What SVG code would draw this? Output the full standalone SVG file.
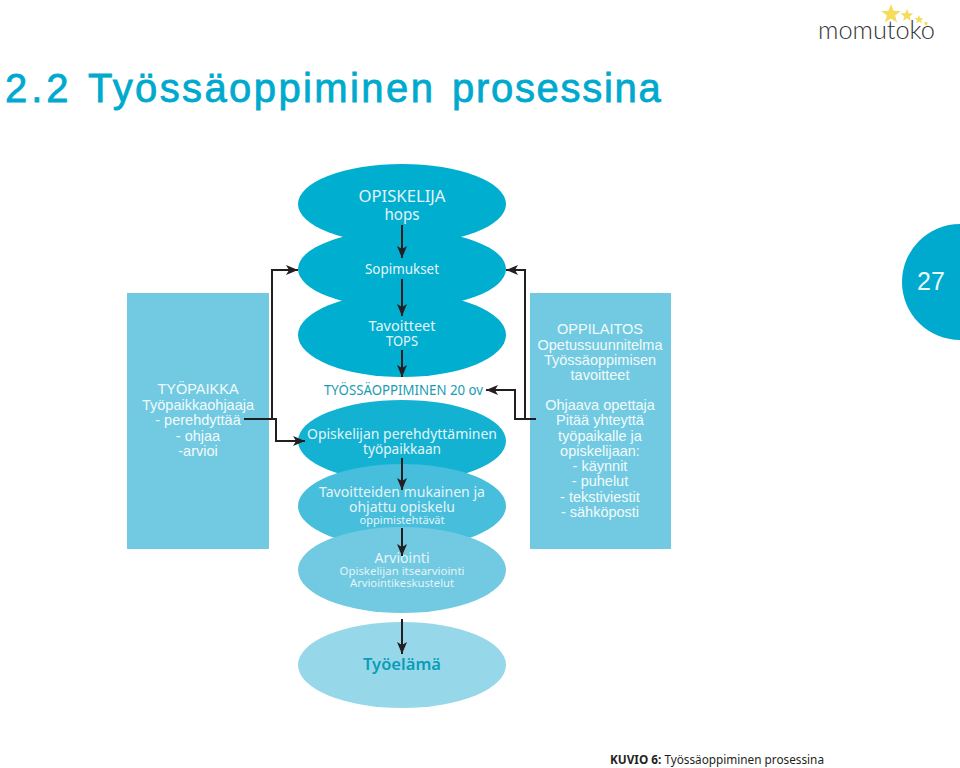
<svg xmlns="http://www.w3.org/2000/svg" width="960" height="768" viewBox="0 0 960 768">
<style>
text{font-family:"Noto Sans","DejaVu Sans",sans-serif;text-anchor:middle}
.a{font-family:"Liberation Sans",Arial,sans-serif}
.w{fill:#e4f4f8;font-size:14.500px}
.s{fill:#e4f4f8;font-size:11.500px}
.box{fill:#71cae1}
.bt{font-family:"Liberation Sans",Arial,sans-serif;fill:#f2fafc;font-size:14.500px}
.c{fill:none;stroke:#231f20;stroke-width:2}
</style>
<defs>
<marker id="ah" markerUnits="userSpaceOnUse" markerWidth="13" markerHeight="10" refX="12" refY="5" orient="auto"><path d="M0 0L12 5L0 10L3 5Z" fill="#231f20"/></marker>
</defs>
<rect width="960" height="768" fill="#fff"/>
<text id="title" y="102" class="a" style="text-anchor:start;font-size:40px" fill="#00a9ce" stroke="#00a9ce" stroke-width=".8"><tspan x="5" style="letter-spacing:4px">2.2 </tspan><tspan x="88" style="letter-spacing:2.400px">Työssäoppiminen </tspan><tspan x="452" style="letter-spacing:1.700px">prosessina</tspan></text>
<g id="logo">
<path d="M891 4l2.600 6.800 7.200.3-5.700 4.500 2 7-6.100-4-6.100 4 2-7-5.700-4.500 7.200-.3z" fill="#f5dc5a"/>
<path d="M907 9l1.700 4.300 4.600.2-3.600 2.900 1.200 4.500-3.900-2.600-3.900 2.600 1.200-4.500-3.600-2.900 4.600-.2z" fill="#f5dc5a"/>
<path d="M919 15l1.200 3 3.200.2-2.500 2 .9 3.100-2.800-1.800-2.800 1.800.9-3.100-2.500-2 3.200-.2z" fill="#f5dc5a"/>
<path d="M926 21l.7 1.600 1.700.1-1.300 1.100.4 1.700-1.500-1-1.500 1 .4-1.700-1.300-1.100 1.700-.1z" fill="#f5dc5a"/>
<text x="876.500" y="39" style="font-family:'Lato','Open Sans',sans-serif;font-size:26px;font-weight:300" fill="#33343a" textLength="117" lengthAdjust="spacingAndGlyphs">momutoko</text>
</g>
<g id="page-tab"><path d="M960 224A58 58 0 0 0 960 340Z" fill="#00a9ce"/><text x="931" y="290" class="a" style="font-size:25px" fill="#e8f7fa">27</text></g>
<g id="tyopaikka"><rect class="box" x="127" y="293" width="142" height="256"/>
<text class="bt" x="198" y="394">TYÖPAIKKA</text><text class="bt" x="198" y="410">Työpaikkaohjaaja</text><text class="bt" x="198" y="425">- perehdyttää</text><text class="bt" x="198" y="441">- ohjaa</text><text class="bt" x="198" y="456">-arvioi</text></g>
<g id="oppilaitos"><rect class="box" x="530" y="293" width="141" height="256"/>
<text class="bt" x="600" y="334">OPPILAITOS</text><text class="bt" x="600" y="350">Opetussuunnitelma</text><text class="bt" x="600" y="365">Työssäoppimisen</text><text class="bt" x="600" y="380">tavoitteet</text>
<text class="bt" x="600" y="410">Ohjaava opettaja</text><text class="bt" x="600" y="425">Pitää yhteyttä</text><text class="bt" x="600" y="441">työpaikalle ja</text><text class="bt" x="600" y="456">opiskelijaan:</text><text class="bt" x="600" y="471">- käynnit</text><text class="bt" x="600" y="486">- puhelut</text><text class="bt" x="600" y="502">- tekstiviestit</text><text class="bt" x="600" y="517">- sähköposti</text></g>
<g id="opiskelija"><ellipse cx="402" cy="204" rx="104" ry="40" fill="#00aecf"/><text class="w" style="font-size:16.500px" x="402" y="202" textLength="87" lengthAdjust="spacingAndGlyphs">OPISKELIJA</text><text class="w" style="font-size:16.500px" x="402" y="220" textLength="35" lengthAdjust="spacingAndGlyphs">hops</text></g>
<g id="sopimukset"><ellipse cx="402" cy="269" rx="104" ry="39" fill="#00aecf"/><text class="w" x="402" y="274" textLength="74" lengthAdjust="spacingAndGlyphs">Sopimukset</text></g>
<g id="tavoitteet"><ellipse cx="402" cy="335" rx="104" ry="42" fill="#00aecf"/><text class="w" x="402" y="331" textLength="67" lengthAdjust="spacingAndGlyphs">Tavoitteet</text><text class="w" x="402" y="346" textLength="32" lengthAdjust="spacingAndGlyphs">TOPS</text></g>
<g id="tyossaoppiminen"><text x="403.500" y="395" style="font-size:15px" fill="#1a9bb3" textLength="159" lengthAdjust="spacingAndGlyphs">TYÖSSÄOPPIMINEN 20 ov</text></g>
<g id="perehdyttaminen"><ellipse cx="402" cy="441" rx="104" ry="41" fill="#13b2d2"/><text class="w" x="402" y="439" textLength="190" lengthAdjust="spacingAndGlyphs">Opiskelijan perehdyttäminen</text><text class="w" x="402" y="454" textLength="78" lengthAdjust="spacingAndGlyphs">työpaikkaan</text></g>
<g id="ohjattu"><ellipse cx="402" cy="506" rx="104" ry="42" fill="#47bedb"/><text class="w" x="402" y="497" textLength="166" lengthAdjust="spacingAndGlyphs">Tavoitteiden mukainen ja</text><text class="w" x="402" y="512" textLength="106" lengthAdjust="spacingAndGlyphs">ohjattu opiskelu</text><text class="s" x="402" y="524" textLength="85" lengthAdjust="spacingAndGlyphs">oppimistehtävät</text></g>
<g id="arviointi"><ellipse cx="402" cy="570" rx="104" ry="43" fill="#71cae1"/><text class="w" x="402" y="563" textLength="55" lengthAdjust="spacingAndGlyphs">Arviointi</text><text class="s" x="402" y="575" textLength="125" lengthAdjust="spacingAndGlyphs">Opiskelijan itsearviointi</text><text class="s" x="402" y="587" textLength="104" lengthAdjust="spacingAndGlyphs">Arviointikeskustelut</text></g>
<g id="tyoelama"><ellipse cx="402" cy="665" rx="104" ry="43" fill="#96d8e9"/><text x="402" y="670" style="font-size:16.500px;font-weight:600" fill="#0a9cb8" textLength="78" lengthAdjust="spacingAndGlyphs">Työelämä</text></g>
<g id="connectors">
<path class="c" d="M402 225V258" marker-end="url(#ah)"/>
<path class="c" d="M402 279V316" marker-end="url(#ah)"/>
<path class="c" d="M402 350V377" marker-end="url(#ah)"/>
<path class="c" d="M402 458V490" marker-end="url(#ah)"/>
<path class="c" d="M402 528V556" marker-end="url(#ah)"/>
<path class="c" d="M402 619V654" marker-end="url(#ah)"/>
<path class="c" d="M244 419H272V270H298" marker-end="url(#ah)"/>
<path class="c" d="M272 419H276V441H305" marker-end="url(#ah)"/>
<path class="c" d="M536 419H525V270H506" marker-end="url(#ah)"/>
<path class="c" d="M525 419H515V390H486" marker-end="url(#ah)"/>
</g>
<text id="caption" x="610" y="764" style="text-anchor:start;font-size:13px" fill="#231f20" textLength="214" lengthAdjust="spacingAndGlyphs"><tspan style="font-weight:700">KUVIO 6:</tspan> Työssäoppiminen prosessina</text>
</svg>
